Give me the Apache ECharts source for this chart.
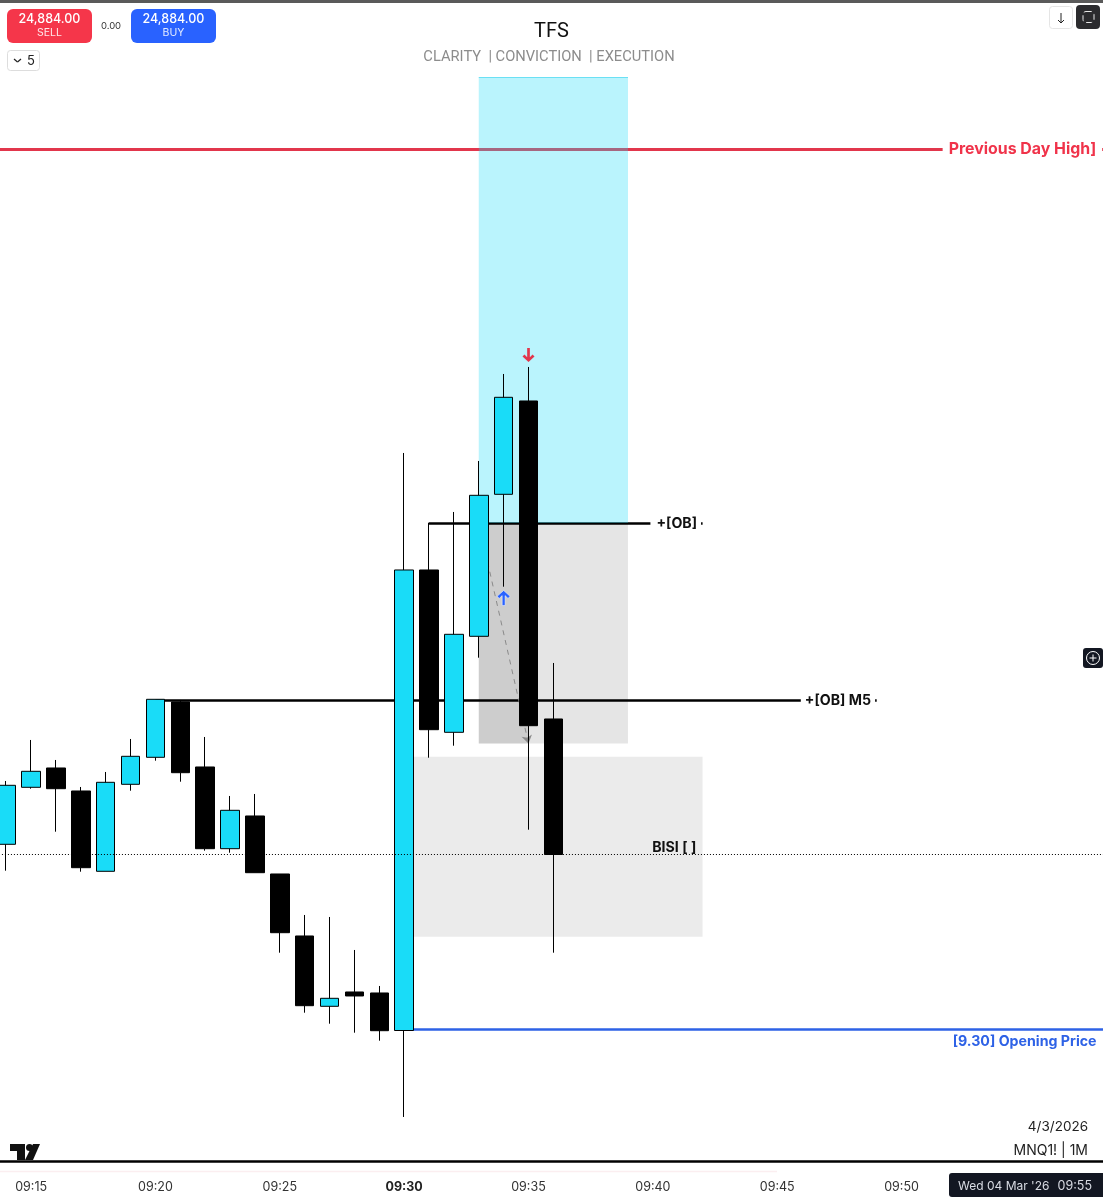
<!DOCTYPE html>
<html>
<head>
<meta charset="UTF-8">
<title>TFS</title>
<style>
html, body { margin: 0; padding: 0; background: #fff; }
#main { width: 1103px; height: 1197px; }
</style>
</head>
<body>
<div id="main"></div>
<script src="https://cdn.jsdelivr.net/npm/echarts@6/dist/echarts.min.js"></script>
<script>
// minutes on the time axis, 09:13 and 09:59 sit just off the picture
var categories = ['09:13','09:14','09:15','09:16','09:17','09:18','09:19','09:20','09:21','09:22','09:23','09:24',
	'09:25','09:26','09:27','09:28','09:29','09:30','09:31','09:32','09:33','09:34','09:35','09:36','09:37','09:38',
	'09:39','09:40','09:41','09:42','09:43','09:44','09:45','09:46','09:47','09:48','09:49','09:50','09:51','09:52',
	'09:53','09:54','09:55','09:56','09:57','09:58','09:59'];
var tickLabels = ['09:15','09:20','09:25','09:30','09:35','09:40','09:45','09:50'];

var candleTimes = ['09:14','09:15','09:16','09:17','09:18','09:19','09:20','09:21','09:22','09:23','09:24','09:25',
	'09:26','09:27','09:28','09:29','09:30','09:31','09:32','09:33','09:34','09:35','09:36'];
var opens = [24886.55,24900.80,24905.63,24899.88,24879.80,24901.55,24908.30,24922.13,24905.88,24885.45,24893.63,24879.13,
	24863.63,24846.05,24849.63,24849.38,24840.00,24955.13,24914.55,24938.55,24974.05,24997.38,24917.88];
var closes = [24901.30,24904.80,24900.45,24880.70,24902.05,24908.55,24922.80,24904.45,24885.45,24895.05,24879.45,24864.45,
	24846.20,24848.05,24848.63,24839.95,24955.13,24915.20,24939.05,24973.80,24998.30,24916.20,24884.00];
var lows = [24879.95,24900.45,24889.70,24879.70,24879.80,24899.95,24907.45,24902.20,24884.95,24884.45,24879.45,24859.45,
	24844.45,24841.70,24839.45,24837.45,24818.38,24908.20,24911.20,24933.20,24950.95,24890.20,24859.45];
var highs = [24902.38,24912.63,24907.63,24900.88,24904.63,24912.88,24922.80,24922.63,24913.38,24898.63,24899.13,24879.13,
	24868.88,24868.38,24860.13,24851.13,24984.38,24966.95,24969.63,24982.38,25004.13,25005.88,24931.88];

var lastPrice = 24884;
var prevDayHigh = 25060.25;
var obLevel = 24966.88;
var obM5Level = 24922.63;
var openingPrice = 24840.37;
var targetTop = 25078.38;
var stopBottom = 24911.75;
var bisiTop = 24908.45;
var bisiBottom = 24863.45;
var sellArrowPrice = 25008.88;
var buyArrowPrice = 24948.13;

var priceMin = 24807.375;
var priceMax = 25097.625;

var candleData = categories.map(function (t) {
	var i = candleTimes.indexOf(t);
	return i < 0 ? ['-', '-', '-', '-'] : [opens[i], closes[i], lows[i], highs[i]];
});

var uiFont = 'Inter, "Noto Sans", sans-serif';
var arrowPath = 'path://M4.7 0h2.6v9.2l2.6-2.6 1.9 1.9L6 14 .2 8.5l1.9-1.9 2.6 2.6z';

function hLine(from, to, y, color, width) {
	return [
		{ coord: [from, y], lineStyle: { color: color, width: width, type: 'solid' } },
		{ coord: [to, y] }
	];
}

function textLabel(time, price, text, color, size, opts) {
	opts = opts || {};
	return {
		value: [time, price],
		label: {
			show: true,
			position: 'inside',
			formatter: text,
			color: color,
			fontSize: size,
			fontWeight: 'bold',
			fontFamily: uiFont,
			align: opts.align || 'center',
			verticalAlign: 'middle',
			offset: opts.offset || [0, 0],
			backgroundColor: opts.bg || 'transparent',
			padding: opts.padding || 0
		}
	};
}

function uiText(x, y, text, size, color, align, weight, font) {
	return {
		type: 'text', x: x, y: y, z: 20,
		style: {
			text: text, fontSize: size, fill: color, fontFamily: font || uiFont,
			align: align || 'left', verticalAlign: 'middle', fontWeight: weight || 'normal'
		}
	};
}

function uiRect(x, y, w, h, r, fill, stroke) {
	return {
		type: 'rect', z: 19,
		shape: { x: x, y: y, width: w, height: h, r: r },
		style: { fill: fill, stroke: stroke || null, lineWidth: stroke ? 1 : 0 }
	};
}

function uiLine(x1, y1, x2, y2, color, width) {
	return {
		type: 'line', z: 20,
		shape: { x1: x1, y1: y1, x2: x2, y2: y2 },
		style: { stroke: color, lineWidth: width }
	};
}

function uiPoly(points, fill) {
	return { type: 'polygon', z: 20, shape: { points: points }, style: { fill: fill } };
}

var chrome = [
	// strip along the top of the screenshot
	uiRect(0, 0, 1103, 3, 0, '#5a5a5a'),
	uiText(549, 57, 'CLARITY  | CONVICTION  | EXECUTION', 14.7, '#8c8c8c', 'center', 'normal', 'Roboto, sans-serif'),
	// sell / buy buttons
	uiRect(7, 9, 85, 34, 6, '#F5364A'),
	uiText(49.5, 19, '24,884.00', 12.5, '#ffffff', 'center', 500),
	uiText(49.5, 33, 'SELL', 10.5, '#ffe4e7', 'center'),
	uiText(111, 26.5, '0.00', 9.5, '#333333', 'center'),
	uiRect(131, 9, 85, 34, 6, '#2962FF'),
	uiText(173.5, 19, '24,884.00', 12.5, '#ffffff', 'center', 500),
	uiText(173.5, 33, 'BUY', 10.5, '#e3ebff', 'center'),
	// lots dropdown
	uiRect(7.5, 50.5, 32, 20, 3, '#ffffff', '#dddddd'),
	uiLine(14, 59, 17.5, 62, '#222222', 1.2),
	uiLine(17.5, 62, 21, 59, '#222222', 1.2),
	uiText(31, 61.5, '5', 13, '#222222', 'center'),
	// top right buttons
	uiRect(1049.5, 6.5, 23, 22, 3, '#ffffff', '#e5e5e5'),
	uiLine(1061, 13, 1061, 23, '#222222', 1),
	uiLine(1058, 20, 1061, 23, '#222222', 1),
	uiLine(1064, 20, 1061, 23, '#222222', 1),
	uiRect(1076, 5, 24, 24, 4, '#2b2b2e'),
	{ type: 'rect', z: 20, shape: { x: 1083, y: 11.5, width: 11, height: 11, r: 3 }, style: { fill: null, stroke: '#e8e8e8', lineWidth: 1, lineDash: [6, 3] } },
	// zoom button on the right edge
	uiRect(1083, 648, 20, 20, 3, '#131722'),
	{ type: 'circle', z: 20, shape: { cx: 1093, cy: 658, r: 6.5 }, style: { fill: null, stroke: '#ffffff', lineWidth: 1 } },
	uiLine(1089.5, 658, 1096.5, 658, '#ffffff', 1),
	uiLine(1093, 654.5, 1093, 661.5, '#ffffff', 1),
	// watermark
	uiPoly([[10, 1144], [25, 1144], [25, 1160], [17, 1160], [17, 1151], [10, 1151]], '#111111'),
	{ type: 'circle', z: 20, shape: { cx: 29.5, cy: 1147.5, r: 3.5 }, style: { fill: '#111111' } },
	uiPoly([[33, 1144], [40, 1144], [33, 1160], [25, 1160]], '#111111'),
	uiText(1088, 1127, '4/3/2026', 13.5, '#222222', 'right'),
	uiText(1088, 1151, 'MNQ1! | 1M', 14, '#222222', 'right'),
	// faint line under the pane
	uiLine(0, 1171.5, 777, 1171.5, '#fbeef0', 1.5),
	// crosshair time box
	uiRect(949, 1173, 154, 24, [3, 0, 0, 3], '#131722'),
	uiText(958, 1186, "Wed 04 Mar '26", 12, '#d8dbe3', 'left'),
	uiText(1092, 1186, '09:55', 12.5, '#d8dbe3', 'right')
];

var myChart = echarts.init(document.getElementById('main'));

var option = {
	animation: false,
	backgroundColor: '#ffffff',
	title: {
		text: 'TFS',
		left: 'center',
		top: 17,
		textStyle: { fontFamily: 'Roboto, sans-serif', fontSize: 20, fontWeight: 'normal', color: '#111111' }
	},
	grid: { left: -31.07, top: 0, width: 1168.9, height: 1161, outerBoundsMode: 'none' },
	xAxis: {
		type: 'category',
		data: categories,
		boundaryGap: true,
		axisLine: { show: true, onZero: false, lineStyle: { color: '#000000', width: 2.5 } },
		axisTick: { show: false },
		splitLine: { show: false },
		axisLabel: {
			margin: 20,
			fontSize: 12.5,
			fontFamily: uiFont,
			color: '#333333',
			interval: function (i, value) { return tickLabels.indexOf(value) >= 0; },
			formatter: function (value) { return value === '09:30' ? '{b|' + value + '}' : value; },
			rich: { b: { fontSize: 12.5, fontFamily: uiFont, fontWeight: 'bold', color: '#222222' } }
		}
	},
	yAxis: {
		type: 'value',
		min: priceMin,
		max: priceMax,
		show: false,
		splitLine: { show: false }
	},
	series: [
		{
			// lines the translucent zones are painted over
			name: 'levelsUnder',
			type: 'line',
			data: [],
			markLine: {
				z: 0,
				silent: true,
				symbol: 'none',
				label: { show: false },
				data: [
					hLine('09:13', '09:59', prevDayHigh, '#E2364C', 3),
					hLine('09:31', '09:42', obLevel, '#000000', 2.5),
					hLine('09:33', '09:39', targetTop, '#8fe3f2', 1)
				]
			}
		},
		{
			name: 'zones',
			type: 'line',
			data: [],
			markArea: {
				z: 1,
				silent: true,
				data: [
					[{ coord: ['09:33', targetTop], itemStyle: { color: 'rgba(25,219,247,0.3)' } }, { coord: ['09:39', obLevel] }],
					[{ coord: ['09:33', obLevel], itemStyle: { color: 'rgba(0,0,0,0.1)' } }, { coord: ['09:39', stopBottom] }],
					[{ coord: ['09:33', obLevel], itemStyle: { color: 'rgba(0,0,0,0.1)' } }, { coord: ['09:35', stopBottom] }],
					[{ coord: ['09:30', bisiTop], itemStyle: { color: 'rgba(0,0,0,0.08)' } }, { coord: ['09:42', bisiBottom] }]
				]
			}
		},
		{
			name: 'levelsOver',
			type: 'line',
			data: [],
			markLine: {
				z: 1.5,
				silent: true,
				symbol: 'none',
				label: { show: false },
				data: [
					hLine('09:20', '09:49', obM5Level, '#000000', 2.5),
					hLine('09:30', '09:59', openingPrice, '#2E62E6', 2.5),
					[
						{
							coord: ['09:33', obLevel],
							symbol: 'none',
							lineStyle: { color: '#8a8a8a', width: 1, type: [5, 5] }
						},
						{ coord: ['09:35', stopBottom], symbol: 'arrow', symbolSize: 8 }
					]
				]
			}
		},
		{
			name: 'MNQ1!',
			type: 'candlestick',
			z: 2,
			barWidth: 19,
			data: candleData,
			itemStyle: {
				color: '#19DCF8',
				color0: '#000000',
				borderColor: '#000000',
				borderColor0: '#000000',
				borderWidth: 1
			}
		},
		{
			name: 'last',
			type: 'line',
			data: [],
			markLine: {
				z: 3,
				silent: true,
				symbol: 'none',
				label: { show: false },
				lineStyle: { color: '#000000', width: 1, type: [1, 2] },
				data: [{ yAxis: lastPrice }]
			}
		},
		{
			name: 'annotations',
			type: 'scatter',
			z: 4,
			symbolSize: 1,
			itemStyle: { color: 'transparent', opacity: 1 },
			data: [
				textLabel('09:55', prevDayHigh, 'Previous Day High]', '#F0334A', 15.9, { offset: [-3.5, 0], bg: '#ffffff', padding: [2, 6] }),
				textLabel('09:41', obLevel, '+[OB]', '#111111', 14.2, { bg: '#ffffff', padding: [2, 4, 2, 6], offset: [-2, 1] }),
				textLabel('09:47', obM5Level, '+[OB] M5', '#111111', 14.2, { bg: '#ffffff', padding: [2, 4], offset: [11, 1] }),
				textLabel('09:58', openingPrice, '[9.30] Opening Price', '#2E62E6', 14.2, { align: 'right', offset: [-4, 13] }),
				textLabel('09:41', lastPrice, 'BISI [ ]', '#111111', 14.2, { offset: [-3.5, -7] }),
				{ value: ['09:35', sellArrowPrice], symbol: arrowPath, symbolSize: [12, 14], itemStyle: { color: '#E2364C', opacity: 1 } },
				{ value: ['09:34', buyArrowPrice], symbol: arrowPath, symbolSize: [13, 15], symbolRotate: 180, itemStyle: { color: '#2962FF', borderColor: '#ffffff', borderWidth: 0.5, opacity: 1 } }
			]
		}
	],
	graphic: { elements: chrome }
};

myChart.setOption(option);
</script>
</body>
</html>
